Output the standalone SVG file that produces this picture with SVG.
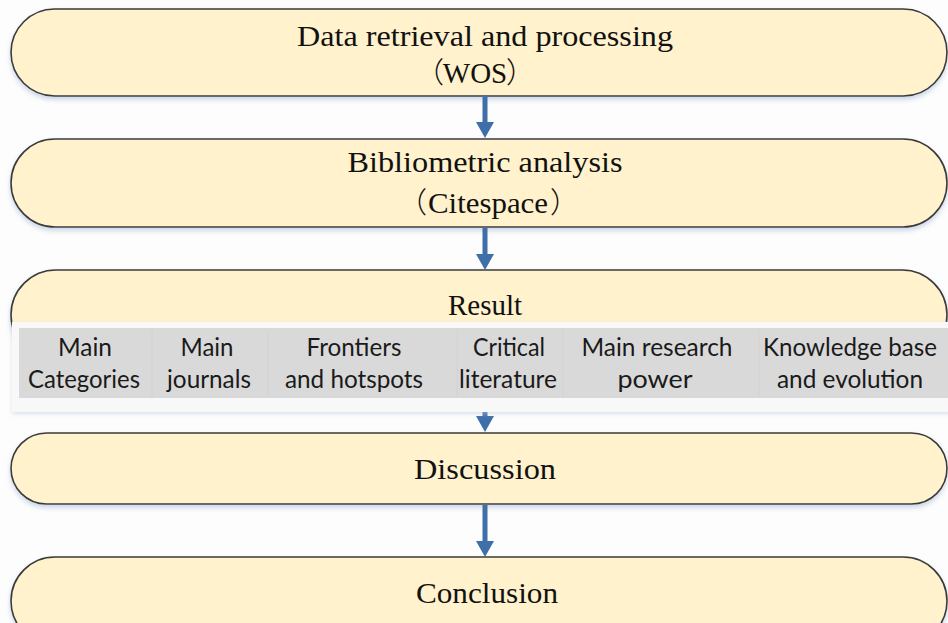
<svg xmlns="http://www.w3.org/2000/svg" width="948" height="623" viewBox="0 0 948 623">
  <style>
    .box { fill: #fff2cc; stroke: #3a3a3a; stroke-width: 1.6; filter: url(#shadow); }
    .title { font-family: "Liberation Serif", "Times New Roman", serif; font-size: 29px; fill: #111; text-anchor: middle; }
    .paren { font-family: "Noto Sans CJK SC", "Noto Sans CJK JP", sans-serif; font-weight: 300; font-size: 29px; fill: #111; }
    .cell { fill: #d9d9d9; }
    .div { stroke: #d2d2d2; stroke-width: 1; }
    .item { font-family: "Lato", "Liberation Sans", sans-serif; font-size: 25px; fill: #1a1a1a; text-anchor: middle; }
    .arrow { stroke: #3f6fa8; stroke-width: 5; fill: none; marker-end: url(#head); }
  </style>
  <defs>
    <filter id="shadow" x="-5%" y="-20%" width="110%" height="150%">
      <feDropShadow dx="0" dy="3" stdDeviation="2.5" flood-color="#8fa6c9" flood-opacity="0.45"/>
    </filter>
    <filter id="soft" x="-5%" y="-20%" width="110%" height="150%">
      <feDropShadow dx="0" dy="2" stdDeviation="2" flood-color="#b8c6dc" flood-opacity="0.5"/>
    </filter>
    <marker id="head" viewBox="0 0 16 18" refX="8" refY="9" markerWidth="16" markerHeight="18" markerUnits="userSpaceOnUse" orient="auto">
      <path d="M0,0 L16,9 L0,18 z" fill="#3f6fa8"/>
    </marker>
  </defs>
  <rect x="0" y="0" width="948" height="623" fill="#fdfdfd"/>

  <g id="node-data">
    <rect class="box" x="11" y="9" width="936" height="87" rx="43.5" ry="43.5"/>
    <text class="title" x="485" y="46" textLength="376" lengthAdjust="spacingAndGlyphs">Data retrieval and processing</text>
    <text class="paren" x="444" y="83" text-anchor="end">（</text>
    <text class="title" x="475" y="83" font-size="26">WOS</text>
    <text class="paren" x="506" y="83" text-anchor="start">）</text>
  </g>

  <g id="node-biblio">
    <rect class="box" x="11" y="139" width="936" height="88" rx="44" ry="44"/>
    <text class="title" x="485" y="172" textLength="275" lengthAdjust="spacingAndGlyphs">Bibliometric analysis</text>
    <text class="paren" x="427" y="213" text-anchor="end">（</text>
    <text class="title" x="488" y="213" textLength="120" lengthAdjust="spacingAndGlyphs">Citespace</text>
    <text class="paren" x="550" y="213" text-anchor="start">）</text>
  </g>

  <g id="node-result">
    <rect class="box" x="11" y="270" width="936" height="90" rx="45" ry="45"/>
    <text class="title" x="485" y="315">Result</text>
  </g>

  <g id="node-discussion">
    <rect class="box" x="11" y="433" width="936" height="71" rx="35.5" ry="35.5"/>
    <text class="title" x="485" y="479" textLength="142" lengthAdjust="spacingAndGlyphs">Discussion</text>
  </g>

  <g id="node-conclusion">
    <rect class="box" x="11" y="557" width="936" height="88" rx="44" ry="44"/>
    <text class="title" x="487" y="603" textLength="142" lengthAdjust="spacingAndGlyphs">Conclusion</text>
  </g>

  <g id="connectors">
    <line class="arrow" x1="485" y1="96" x2="485" y2="130"/>
    <line class="arrow" x1="485" y1="228" x2="485" y2="262"/>
    <line class="arrow" x1="485" y1="400" x2="485" y2="424"/>
    <line class="arrow" x1="485" y1="505" x2="485" y2="549"/>
  </g>

  <g id="result-items">
    <rect x="12" y="322" width="940" height="90" fill="#f8f8f8" filter="url(#soft)"/>
    <rect class="cell" x="19" y="328" width="929" height="70"/>
    <line class="div" x1="152" y1="330" x2="152" y2="397"/>
    <line class="div" x1="268" y1="330" x2="268" y2="397"/>
    <line class="div" x1="457" y1="330" x2="457" y2="397"/>
    <line class="div" x1="563" y1="330" x2="563" y2="397"/>
    <line class="div" x1="759" y1="330" x2="759" y2="397"/>
    <g id="item-categories">
      <text class="item" x="85" y="356" textLength="54" lengthAdjust="spacingAndGlyphs">Main</text>
      <text class="item" x="84" y="388" textLength="112" lengthAdjust="spacingAndGlyphs">Categories</text>
    </g>
    <g id="item-journals">
      <text class="item" x="207" y="356" textLength="53" lengthAdjust="spacingAndGlyphs">Main</text>
      <text class="item" x="209" y="388" textLength="84" lengthAdjust="spacingAndGlyphs">journals</text>
    </g>
    <g id="item-frontiers">
      <text class="item" x="354" y="356" textLength="95" lengthAdjust="spacingAndGlyphs">Frontiers</text>
      <text class="item" x="354" y="388" textLength="138" lengthAdjust="spacingAndGlyphs">and hotspots</text>
    </g>
    <g id="item-literature">
      <text class="item" x="509" y="356" textLength="72" lengthAdjust="spacingAndGlyphs">Critical</text>
      <text class="item" x="508" y="388" textLength="98" lengthAdjust="spacingAndGlyphs">literature</text>
    </g>
    <g id="item-power">
      <text class="item" x="657" y="356" textLength="151" lengthAdjust="spacingAndGlyphs">Main research</text>
      <text class="item" x="655" y="388" textLength="75" lengthAdjust="spacingAndGlyphs">power</text>
    </g>
    <g id="item-knowledge">
      <text class="item" x="850" y="356" textLength="174" lengthAdjust="spacingAndGlyphs">Knowledge base</text>
      <text class="item" x="850" y="388" textLength="146" lengthAdjust="spacingAndGlyphs">and evolution</text>
    </g>
  </g>
</svg>
